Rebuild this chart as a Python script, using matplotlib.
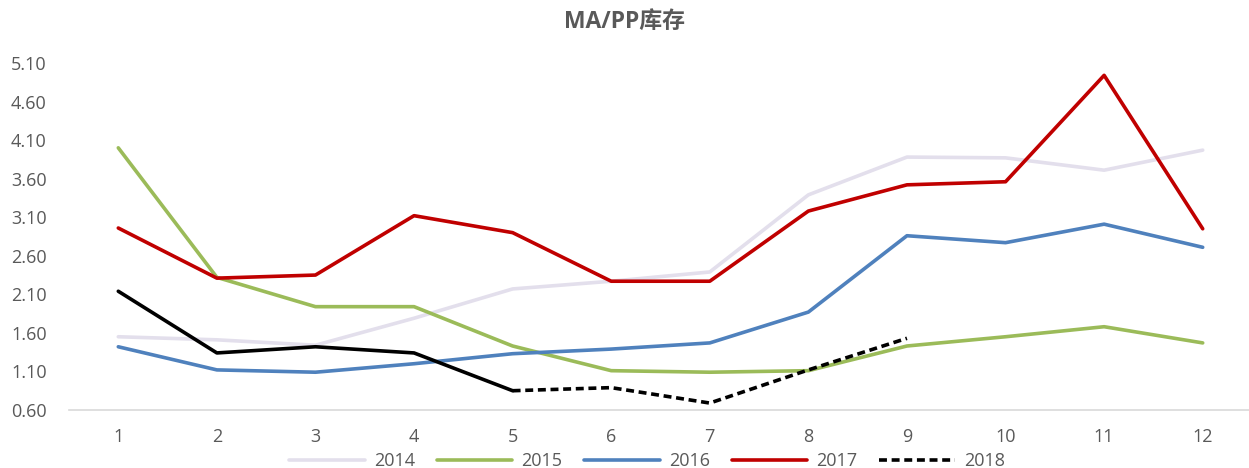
import matplotlib
matplotlib.use("Agg")
import matplotlib.pyplot as plt

months = [1, 2, 3, 4, 5, 6, 7, 8, 9, 10, 11, 12]
s2014 = [1.55, 1.51, 1.44, 1.79, 2.17, 2.27, 2.39, 3.39, 3.88, 3.87, 3.71, 3.97]
s2015 = [4.00, 2.32, 1.94, 1.94, 1.43, 1.11, 1.09, 1.11, 1.43, 1.55, 1.68, 1.47]
s2016 = [1.42, 1.12, 1.09, 1.20, 1.33, 1.39, 1.47, 1.87, 2.86, 2.77, 3.01, 2.71]
s2017 = [2.96, 2.31, 2.35, 3.12, 2.90, 2.27, 2.27, 3.18, 3.52, 3.56, 4.94, 2.95]
s2018 = [2.14, 1.34, 1.42, 1.34, 0.85, 0.89, 0.69, 1.12, 1.53]
yticks = [0.60, 1.10, 1.60, 2.10, 2.60, 3.10, 3.60, 4.10, 4.60, 5.10]

plt.rcParams['font.family'] = ['Open Sans', 'Noto Sans CJK SC', 'DejaVu Sans']

fig = plt.figure(figsize=(12.49, 4.68), dpi=100)
ax = fig.add_axes([69/1249, 1-410/468, 1183/1249, (410-63)/468])

lw = 2.6
ax.plot(months, s2014, color='#E3DFEC', lw=lw, label='2014', solid_capstyle='round')
ax.plot(months, s2015, color='#9BBB59', lw=lw, label='2015', solid_capstyle='round')
ax.plot(months, s2016, color='#4F81BD', lw=lw, label='2016', solid_capstyle='round')
ax.plot(months, s2017, color='#C00000', lw=lw, label='2017', solid_capstyle='round')
n18 = len(s2018)
ax.plot(months[:5], s2018[:5], color='black', lw=lw, solid_capstyle='round')
ax.plot(months[4:n18], s2018[4:], color='black', lw=lw, ls=(0, (2.2, 1.3)), label='2018')

ax.set_xlim(0.5, 12.5)
ax.set_ylim(0.6, 5.1)
ax.set_xticks(months)
ax.set_xticklabels([str(m) for m in months])
ax.set_yticks(yticks)
ax.set_yticklabels([f"{v:.2f}" for v in yticks])
ax.tick_params(axis='both', length=0, labelsize=13, colors='#595959')
ax.tick_params(axis='x', pad=13)
ax.tick_params(axis='y', pad=16)
for side in ['top', 'right', 'left']:
    ax.spines[side].set_visible(False)
ax.spines['bottom'].set_color('#D9D9D9')
ax.spines['bottom'].set_linewidth(1.2)
for l in ax.lines:
    l.set_clip_on(False)

fig.text(0.5, 1-22/468, 'MA/PP库存', ha='center', va='center', fontsize=16.5,
         fontweight='bold', color='#595959', family=['Open Sans', 'Noto Sans CJK SC'])

fig.legend(loc='center', bbox_to_anchor=(0.518, 1-461/468), ncol=5, frameon=False,
           fontsize=13, handlelength=4.2, columnspacing=1.2, handletextpad=0.5,
           labelcolor='#595959')

fig.savefig('out.png', dpi=100)
